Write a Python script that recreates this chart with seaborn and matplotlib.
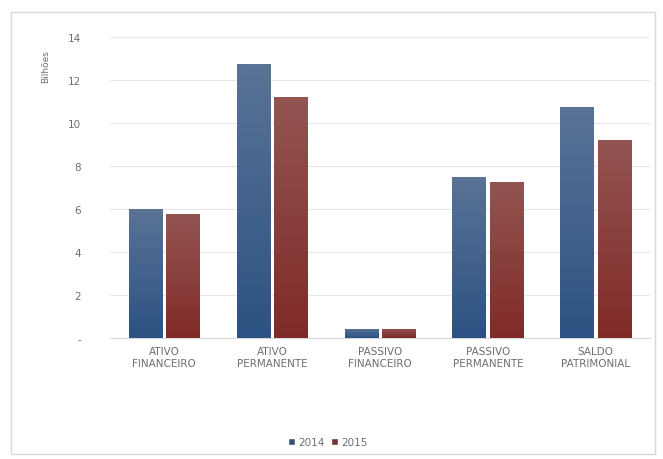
"""
Balanco patrimonial 2014 x 2015 - bar chart (bilhoes).
"""

import numpy as np
import pandas as pd
import matplotlib
matplotlib.use("Agg")
import matplotlib.pyplot as plt
import seaborn as sns
from matplotlib.colors import LinearSegmentedColormap
from matplotlib.patches import Rectangle

CATEGORIES = ["ATIVO\nFINANCEIRO", "ATIVO\nPERMANENTE", "PASSIVO\nFINANCEIRO",
              "PASSIVO\nPERMANENTE", "SALDO\nPATRIMONIAL"]
YEARS      = ["2014", "2015"]
VALS_2014  = [6.0, 12.75, 0.42, 7.5, 10.75]
VALS_2015  = [5.75, 11.2, 0.42, 7.28, 9.22]
Y_TICKS    = [0, 2, 4, 6, 8, 10, 12, 14]
Y_LABELS   = ["-", "2", "4", "6", "8", "10", "12", "14"]

COLORS = {"2014": "#2C5283", "2015": "#802A27"}
LIGHT  = {"2014": "#5A7396", "2015": "#935552"}
TEXT_C = "#6E6E6E"

df = pd.DataFrame({
    "categoria": CATEGORIES * 2,
    "ano": [YEARS[0]] * len(CATEGORIES) + [YEARS[1]] * len(CATEGORIES),
    "valor": VALS_2014 + VALS_2015,
})

sns.set_theme(style="white")
plt.rcParams["font.family"] = ["DejaVu Sans"]

fig = plt.figure(figsize=(6.63, 4.6), dpi=100)
ax = fig.add_axes([0.166, 0.263, 0.814, 0.654])

sns.barplot(data=df, x="categoria", y="valor", hue="ano", palette=COLORS,
            width=0.69, gap=0.1, ax=ax, legend=True, zorder=3)

# gradient fill on each bar (lighter on top, like the original)
for i, cont in enumerate(ax.containers):
    year = YEARS[i]
    cmap = LinearSegmentedColormap.from_list(year, [COLORS[year], LIGHT[year]])
    grad = np.linspace(0, 1, 256).reshape(-1, 1)
    for bar in cont:
        x0, y0 = bar.get_x(), bar.get_y()
        w, h = bar.get_width(), bar.get_height()
        im = ax.imshow(grad, cmap=cmap, origin="lower", aspect="auto",
                       extent=[x0, x0 + w, y0, y0 + h], zorder=3.5)
        im.set_clip_path(bar)
        bar.set_edgecolor("none")

ax.set_xlim(-0.5, 4.5)
ax.set_ylim(0, 14)
ax.set_yticks(Y_TICKS)
ax.set_yticklabels(Y_LABELS)
ax.tick_params(axis="both", length=0, labelsize=7.5, labelcolor=TEXT_C)
ax.tick_params(axis="y", pad=21)
ax.tick_params(axis="x", pad=6)
ax.grid(axis="y", color="#E6E6E6", linewidth=0.8, zorder=0)
ax.set_xlabel("")
ax.set_ylabel("Bilhões", fontsize=6.5, color=TEXT_C)
ax.yaxis.set_label_coords(-0.111, 0.907)
for s in ["top", "right", "left"]:
    ax.spines[s].set_visible(False)
ax.spines["bottom"].set_color("#D9D9D9")
ax.spines["bottom"].set_linewidth(0.8)

handles, labels = ax.get_legend_handles_labels()
ax.legend(handles, labels, loc="center", bbox_to_anchor=(0.494, 0.037),
          bbox_transform=fig.transFigure, ncol=2, frameon=False,
          fontsize=7.5, labelcolor=TEXT_C, handlelength=0.7, handleheight=0.7,
          handletextpad=0.3, columnspacing=0.6)

# outer chart frame
fig.patches.append(Rectangle((0.017, 0.01), 0.971, 0.962, transform=fig.transFigure,
                             fill=False, edgecolor="#D9D9D9", linewidth=1.0))

fig.savefig("out.png", dpi=100)
